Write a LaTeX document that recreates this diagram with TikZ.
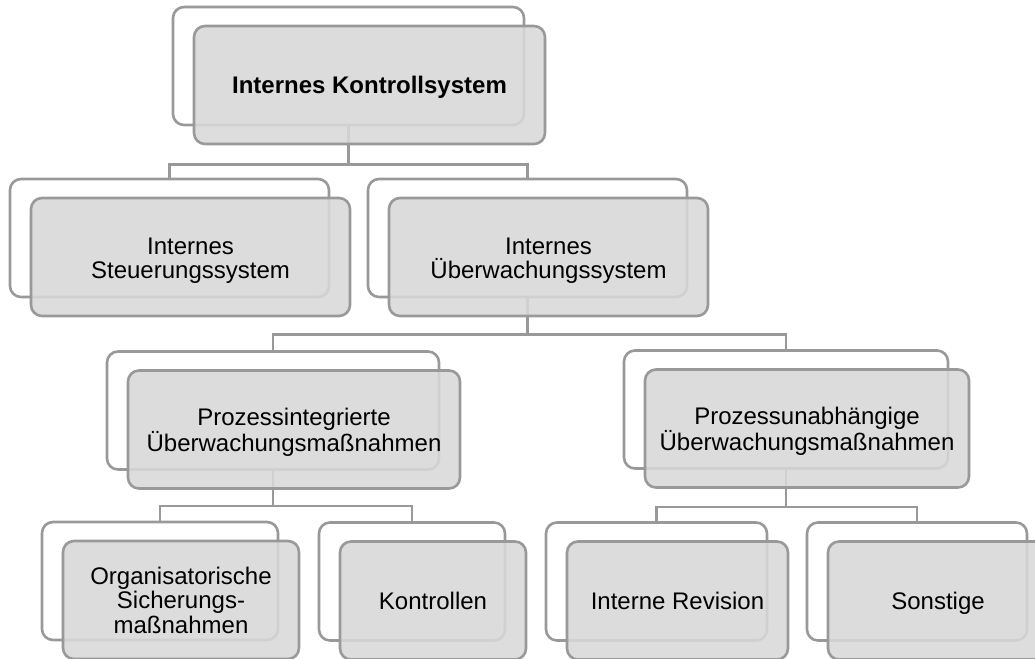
\documentclass[tikz,border=0pt]{standalone}
\usepackage{fontspec}
\setmainfont{Liberation Sans}
\definecolor{boxline}{HTML}{999999}
\definecolor{boxfill}{HTML}{D8D8D8}
% taller first line, so two-line labels sit a little lower
\newcommand\firstline{\rule{0pt}{23.5pt}}
% label without descender depth
\newcommand\nodepth[1]{\raisebox{0pt}[\height][0pt]{#1}}
\begin{document}
\begin{tikzpicture}[x=1pt,y=-1pt,
  backbox/.style={draw=boxline, line width=2.6pt, rounded corners=11pt,
    fill=white, minimum height=118pt, inner sep=0pt},
  frontbox/.style={draw=boxline, line width=2.6pt, rounded corners=11pt,
    fill=boxfill, fill opacity=0.88, text opacity=1, minimum height=118pt,
    inner sep=0pt, align=center, font=\fontsize{24}{24.5}\selectfont},
  link/.style={draw=boxline, line width=2.6pt}]
\useasboundingbox (0,0) rectangle (1035,658);
\clip (0,0) rectangle (1035,658);

% rear frames
\node[backbox, minimum width=351pt] (top-b) at (348.5,66) {};
\node[backbox, minimum width=319pt] (is-b)  at (169.5,238) {};
\node[backbox, minimum width=319pt] (iu-b)  at (527.5,238) {};
\node[backbox, minimum width=332pt] (pi-b)  at (273,410.5) {};
\node[backbox, minimum width=324pt] (pu-b)  at (786,409.5) {};
\node[backbox, minimum width=236pt] (os-b)  at (160,581) {};
\node[backbox, minimum width=186pt] (ko-b)  at (412,581.5) {};
\node[backbox, minimum width=221pt] (ir-b)  at (656.5,581.5) {};
\node[backbox, minimum width=220pt] (so-b)  at (917,581.5) {};

% tree connectors
\draw[link] (top-b.south) -- ++(0,38) -| (is-b.north);
\draw[link] (top-b.south) -- ++(0,38) -| (iu-b.north);
\draw[link] (iu-b.south) -- ++(0,36) -| (pi-b.north);
\draw[link] (iu-b.south) -- ++(0,36) -| (pu-b.north);
\draw[link] (pi-b.south) -- ++(0,35) -| (os-b.north);
\draw[link] (pi-b.south) -- ++(0,35) -| (ko-b.north);
\draw[link] (pu-b.south) -- ++(0,37) -| (ir-b.north);
\draw[link] (pu-b.south) -- ++(0,37) -| (so-b.north);

% front panels with labels
\node[frontbox, minimum width=351pt] (top) at (369.5,85) {\nodepth{\textbf{Internes Kontrollsystem}}};
\node[frontbox, minimum width=319pt] (is)  at (190.5,257) {\firstline Internes\\Steuerungssystem};
\node[frontbox, minimum width=319pt] (iu)  at (548.5,257) {\firstline Internes\\Überwachungssystem};
\node[frontbox, minimum width=332pt] (pi)  at (294,429.5) {\firstline Prozessintegrierte\\Überwachungsmaßnahmen};
\node[frontbox, minimum width=324pt] (pu)  at (807,428.5) {\firstline Prozessunabhängige\\Überwachungsmaßnahmen};
\node[frontbox, minimum width=236pt] (os)  at (181,600) {Organisatorische\\Sicherungs-\\maßnahmen};
\node[frontbox, minimum width=186pt] (ko)  at (433,600.5) {Kontrollen};
\node[frontbox, minimum width=221pt] (ir)  at (677.5,600.5) {Interne Revision};
\node[frontbox, minimum width=220pt] (so)  at (938,600.5) {\nodepth{Sonstige}};
\end{tikzpicture}
\end{document}
